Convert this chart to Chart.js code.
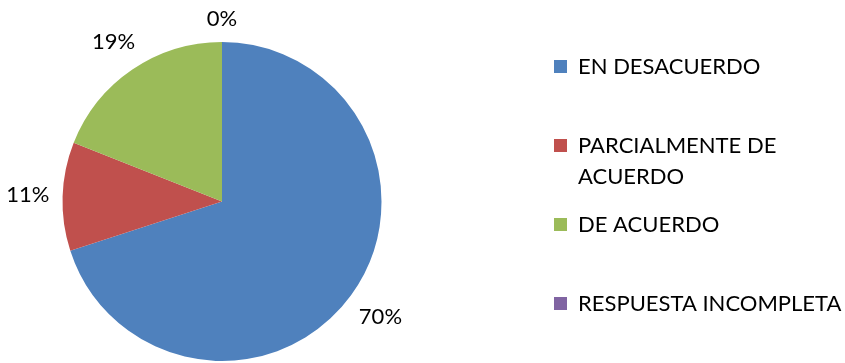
<!DOCTYPE html>
<html>
<head>
<meta charset="utf-8">
<script src="https://cdn.jsdelivr.net/npm/chart.js"></script>
<style>
    html, body { margin: 0; padding: 0; background: #ffffff; }
    #wrap { width: 845px; height: 363px; }
</style>
</head>
<body>
<div id="wrap"><canvas id="pie" width="845" height="363"></canvas></div>
<script>
// data
const categories = ['EN DESACUERDO', ['PARCIALMENTE DE', 'ACUERDO'], 'DE ACUERDO', 'RESPUESTA INCOMPLETA'];
const values = [70, 11, 19, 0];
const colors = ['#4F81BD', '#C0504D', '#9BBB59', '#8064A2'];

const FONT = '22px Lato';

// percentage labels outside each slice
const outsideLabels = {
    id: 'outsideLabels',
    afterDatasetsDraw(chart) {
        const ctx = chart.ctx;
        const meta = chart.getDatasetMeta(0);
        const total = values.reduce((a, b) => a + b, 0);
        ctx.save();
        ctx.font = FONT;
        ctx.fillStyle = '#000000';
        ctx.textAlign = 'center';
        ctx.textBaseline = 'middle';
        meta.data.forEach((arc, i) => {
            const mid = (arc.startAngle + arc.endAngle) / 2;
            const dx = Math.cos(mid), dy = Math.sin(mid);
            const txt = Math.round(values[i] / total * 100) + '%';
            const w = ctx.measureText(txt).width;
            const d = arc.outerRadius + 13 + Math.abs(dx) * w / 2 + Math.abs(dy) * 10;
            ctx.fillText(txt, arc.x + dx * d, arc.y + dy * d);
        });
        ctx.restore();
    }
};

// legend on the right
const sideLegend = {
    id: 'sideLegend',
    afterDraw(chart) {
        const ctx = chart.ctx;
        const x0 = 554, y0 = 67, step = 79, lineH = 31;
        ctx.save();
        ctx.font = FONT;
        ctx.textBaseline = 'middle';
        categories.forEach((c, i) => {
            const y = y0 + i * step;
            ctx.fillStyle = colors[i];
            ctx.fillRect(x0, y - 7, 13, 13);
            ctx.fillStyle = '#000000';
            const lines = Array.isArray(c) ? c : [c];
            lines.forEach((ln, j) => ctx.fillText(ln, x0 + 24, y + j * lineH));
        });
        ctx.restore();
    }
};

new Chart(document.getElementById('pie'), {
    type: 'pie',
    data: {
        labels: categories,
        datasets: [{
            data: values,
            backgroundColor: colors,
            borderWidth: 0
        }]
    },
    options: {
        responsive: false,
        animation: false,
        layout: { padding: { top: 42, bottom: 2, left: 62, right: 463 } },
        plugins: {
            legend: { display: false },
            tooltip: { enabled: false }
        }
    },
    plugins: [outsideLabels, sideLegend]
});
</script>
</body>
</html>
